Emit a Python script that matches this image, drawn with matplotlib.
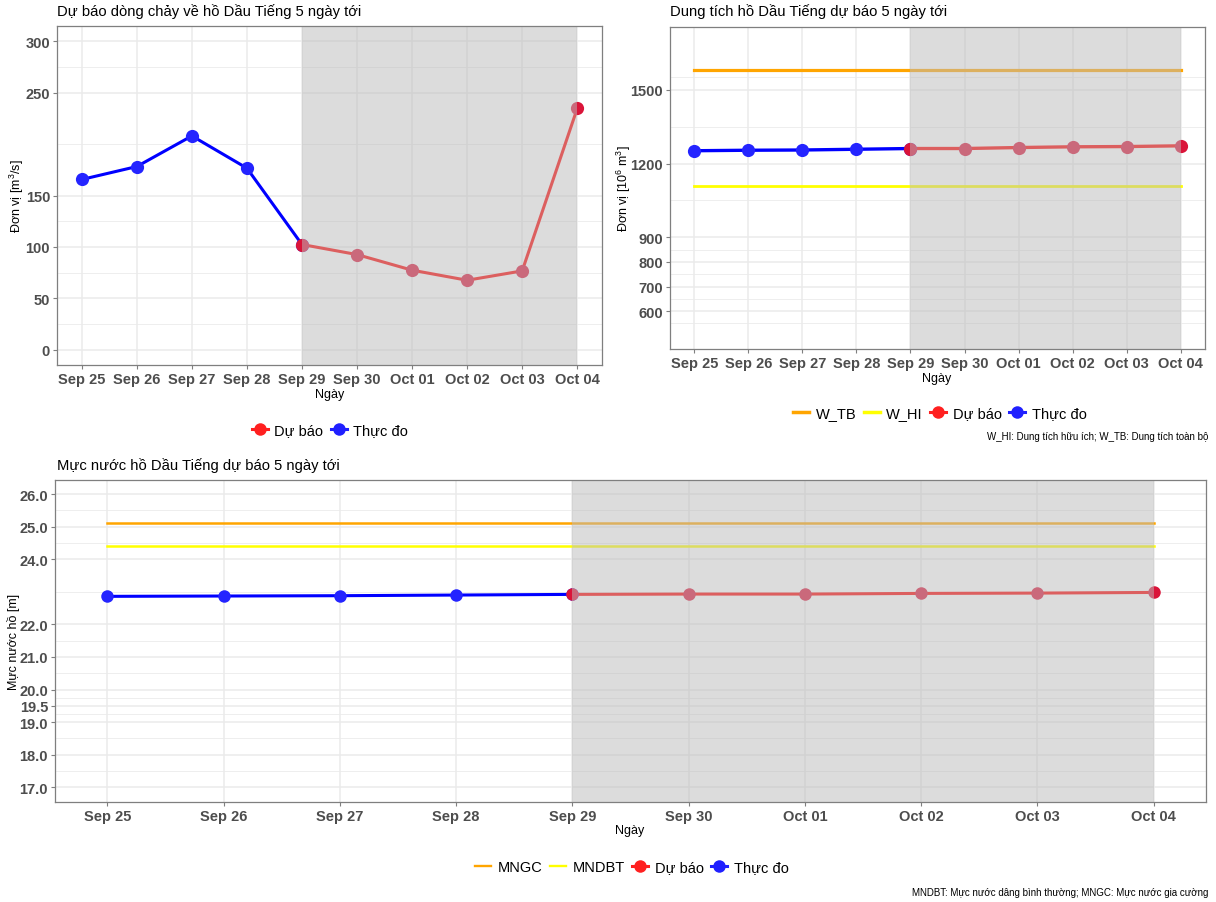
import numpy as np
import pandas as pd
import matplotlib
matplotlib.use("Agg")
import matplotlib.pyplot as plt
import matplotlib.dates as mdates
from matplotlib.lines import Line2D

plt.rcParams['font.family'] = ['Liberation Sans', 'DejaVu Sans']
plt.rcParams['mathtext.fontset'] = 'custom'
plt.rcParams['mathtext.rm'] = 'Liberation Sans'
plt.rcParams['mathtext.it'] = 'Liberation Sans'

# ---------------- data ----------------
dates = pd.date_range('2024-09-25', periods=10, freq='D')
obs_dates = dates[:5]          # Sep 25 .. Sep 29
fc_dates = dates[4:]           # Sep 29 .. Oct 04

flow_obs = [165.6, 178.2, 208.0, 176.6, 102.3]
flow_fc = [102.3, 92.5, 77.3, 67.5, 76.6, 234.7]

vol_obs = [1252, 1254, 1255, 1258, 1261]
vol_fc = [1261, 1261, 1265, 1268, 1269, 1272]
W_TB = 1580
W_HI = 1110

level_obs = [22.86, 22.87, 22.88, 22.90, 22.92]
level_fc = [22.92, 22.93, 22.93, 22.95, 22.96, 22.98]
MNGC = 25.1
MNDBT = 24.4

flow_ticks = [0, 50, 100, 150, 250, 300]
flow_minor = [25, 75, 125, 200, 275]
vol_ticks = [600, 700, 800, 900, 1200, 1500]
vol_minor = [550, 650, 750, 850, 1050, 1350, 1550]
lvl_ticks = [17.0, 18.0, 19.0, 19.5, 20.0, 21.0, 22.0, 24.0, 25.0, 26.0]
lvl_minor = [17.5, 18.5, 19.25, 19.75, 20.5, 21.5, 23.0, 24.5, 25.5]

# ---------------- style ----------------
W, H = 1216, 903
fig = plt.figure(figsize=(W / 100, H / 100), dpi=100)

BLUE_LINE = '#0000FF'
BLUE_PT = '#2424FF'
RED_LINE = '#FF0000'
RED_PT = '#DA1439'
ORANGE = '#FFA500'
YELLOW = '#FFFF00'
TICK_C = '#4D4D4D'
GRID_C = '#EBEBEB'
BORDER_C = '#7F7F7F'


def ax_box(l, t, r, b):
    return fig.add_axes([l / W, 1 - b / H, (r - l) / W, (b - t) / H])


def style_axes(ax, yticks, yminor, ylim, fmt):
    x0 = dates[0] - pd.Timedelta(hours=0.45 * 24)
    x1 = dates[-1] + pd.Timedelta(hours=0.45 * 24)
    ax.set_xlim(x0, x1)
    ax.set_ylim(*ylim)
    ax.set_yticks(yticks)
    ax.set_yticklabels([fmt.format(v) for v in yticks])
    ax.set_xticks(dates)
    ax.xaxis.set_major_formatter(mdates.DateFormatter('%b %d'))
    for v in yticks:
        ax.axhline(v, color=GRID_C, lw=1.1, zorder=0)
    for v in yminor:
        ax.axhline(v, color=GRID_C, lw=0.6, zorder=0)
    for d in dates:
        ax.axvline(d, color=GRID_C, lw=1.1, zorder=0)
    for s in ax.spines.values():
        s.set_color(BORDER_C)
        s.set_linewidth(0.9)
        s.set_zorder(10)
    ax.tick_params(axis='both', colors=BORDER_C, length=3, width=0.8,
                   labelcolor=TICK_C, labelsize=10.5, pad=2)
    for lab in ax.get_xticklabels() + ax.get_yticklabels():
        lab.set_fontweight('bold')
    # forecast shading on top
    ax.axvspan(dates[4], dates[-1], facecolor='#BBBBBB', alpha=0.514,
               lw=0, zorder=5)


def draw_series(ax, obs, fc, lw=2.2, ms=9.5):
    ax.plot(obs_dates, obs, color=BLUE_LINE, lw=lw, zorder=3,
            solid_capstyle='round')
    ax.plot(fc_dates, fc, color=RED_LINE, lw=lw, zorder=3,
            solid_capstyle='round')
    ax.plot(obs_dates, obs, 'o', color=BLUE_PT, ms=ms, mec='none', zorder=4)
    ax.plot(fc_dates, fc, 'o', color=RED_PT, ms=ms, mec='none', zorder=4)


def pt_handle(c):
    return Line2D([0], [0], color=c, lw=2.2, marker='o', ms=9, mec='none')


def line_handle(c, lw):
    return Line2D([0], [0], color=c, lw=lw)


LEG_KW = dict(frameon=False, fontsize=10.5, handlelength=1.1,
              columnspacing=0.5, handletextpad=0.45, borderpad=0.2)

# ---------------- panel 1: inflow ----------------
ax1 = ax_box(57, 27, 602, 366)
style_axes(ax1, flow_ticks, flow_minor, (-15, 315), '{:.0f}')
draw_series(ax1, flow_obs, flow_fc)
fig.text(57 / W, 1 - 12 / H, 'Dự báo dòng chảy về hồ Dầu Tiếng 5 ngày tới',
         ha='left', va='center', fontsize=10.6)
fig.text(330 / W, 1 - 395 / H, 'Ngày', ha='center', va='center', fontsize=9)
fig.text(17 / W, 1 - 196 / H, r'Đơn vị [m$^3$/s]', ha='center', va='center',
         rotation=90, fontsize=9)
fig.legend(handles=[pt_handle('#FF2020'), pt_handle('#2020FF')],
           labels=['Dự báo', 'Thực đo'], loc='center',
           bbox_to_anchor=(330 / W, 1 - 431 / H), ncol=2, **LEG_KW)

# ---------------- panel 2: volume ----------------
ax2 = ax_box(670, 28, 1205, 350)
style_axes(ax2, vol_ticks, vol_minor, (446, 1755), '{:.0f}')
ax2.plot([dates[0], dates[-1]], [W_TB, W_TB], color=ORANGE, lw=2.3, zorder=2)
ax2.plot([dates[0], dates[-1]], [W_HI, W_HI], color=YELLOW, lw=2.0, zorder=2)
draw_series(ax2, vol_obs, vol_fc, lw=2.4, ms=9.5)
fig.text(670 / W, 1 - 12 / H, 'Dung tích hồ Dầu Tiếng dự báo 5 ngày tới',
         ha='left', va='center', fontsize=10.6)
fig.text(937 / W, 1 - 379 / H, 'Ngày', ha='center', va='center', fontsize=9)
fig.text(624 / W, 1 - 189 / H, r'Đơn vị [10$^6$ m$^3$]', ha='center',
         va='center', rotation=90, fontsize=9)
fig.legend(handles=[line_handle(ORANGE, 2.5), line_handle(YELLOW, 2.5),
                    pt_handle('#FF2020'), pt_handle('#2020FF')],
           labels=['W_TB', 'W_HI', 'Dự báo', 'Thực đo'], loc='center',
           bbox_to_anchor=(940 / W, 1 - 414 / H), ncol=4, **LEG_KW)
fig.text(1208 / W, 1 - 437 / H,
         'W_HI: Dung tích hữu ích; W_TB: Dung tích toàn bộ',
         ha='right', va='center', fontsize=7)

# ---------------- panel 3: water level ----------------
ax3 = ax_box(55, 481, 1206, 803)
style_axes(ax3, lvl_ticks, lvl_minor, (16.55, 26.43), '{:.1f}')
ax3.plot([dates[0], dates[-1]], [MNGC, MNGC], color=ORANGE, lw=1.8, zorder=2)
ax3.plot([dates[0], dates[-1]], [MNDBT, MNDBT], color=YELLOW, lw=1.8, zorder=2)
draw_series(ax3, level_obs, level_fc, lw=2.2, ms=9)
fig.text(57 / W, 1 - 466 / H, 'Mực nước hồ Dầu Tiếng dự báo 5 ngày tới',
         ha='left', va='center', fontsize=10.6)
fig.text(630 / W, 1 - 831 / H, 'Ngày', ha='center', va='center', fontsize=9)
fig.text(14 / W, 1 - 642 / H, 'Mực nước hồ [m]', ha='center', va='center',
         rotation=90, fontsize=9)
fig.legend(handles=[line_handle(ORANGE, 1.7), line_handle(YELLOW, 1.7),
                    pt_handle('#FF2020'), pt_handle('#2020FF')],
           labels=['MNGC', 'MNDBT', 'Dự báo', 'Thực đo'], loc='center',
           bbox_to_anchor=(632 / W, 1 - 868 / H), ncol=4, **LEG_KW)
fig.text(1208 / W, 1 - 893 / H,
         'MNDBT: Mực nước dâng bình thường; MNGC: Mực nước gia cường',
         ha='right', va='center', fontsize=7)

fig.savefig('out.png', dpi=100, facecolor='white')
